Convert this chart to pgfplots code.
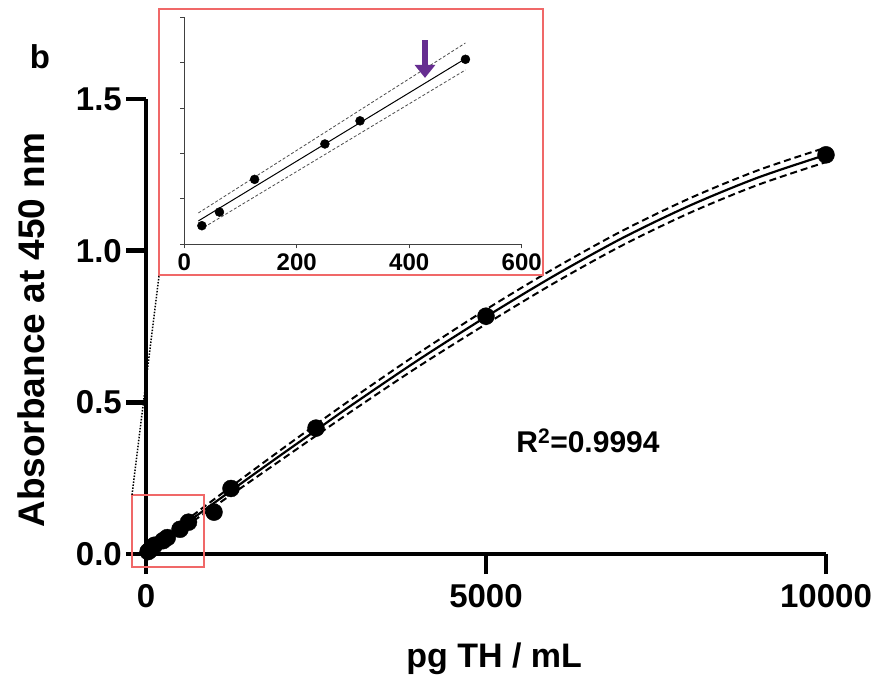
\documentclass[border=0pt]{standalone}
\usepackage{fontspec}
\setmainfont{Liberation Sans}
\usepackage{pgfplots}
\pgfplotsset{compat=1.18}
\usetikzlibrary{arrows.meta}
\definecolor{boxred}{RGB}{240,104,104}
\definecolor{arrowpurple}{RGB}{102,45,145}
\begin{document}
\begin{tikzpicture}
\path[use as bounding box] (0pt,-675pt) rectangle (879pt,0pt);
% ---------------- main axis ----------------
\begin{axis}[
  at={(146pt,-554pt)}, anchor=south west,
  scale only axis, width=680pt, height=455pt,
  xmin=0, xmax=10000, ymin=0, ymax=1.5,
  scaled x ticks=false, scaled y ticks=false,
  axis x line=bottom, axis y line=left,
  axis line style={-, line width=4.5pt, black},
  tick align=outside, major tick length=20pt,
  tick style={line width=4.5pt, black},
  xtick={0,5000,10000}, xticklabels={0,5000,10000},
  ytick={0,0.5,1,1.5}, yticklabels={0.0,0.5,1.0,1.5},
  ticklabel style={font=\fontsize{33pt}{36pt}\selectfont\bfseries, inner sep=0pt},
  xticklabel style={anchor=north, yshift=-10pt},
  yticklabel style={anchor=east, xshift=-4pt},
  xlabel={pg TH / mL},
  ylabel={Absorbance at 450 nm},
  xlabel style={font=\fontsize{34pt}{38pt}\selectfont\bfseries, inner sep=0pt,
    at={(axis description cs:0.512,0)}, anchor=base, yshift=-113pt},
  ylabel style={font=\fontsize{37pt}{40pt}\selectfont\bfseries, inner sep=0pt,
    at={(axis description cs:-0.168,0.492)}, anchor=center, rotate=0},
  clip=false,
]
% fitted curve and confidence band
\addplot[black, line width=2.2pt, smooth] coordinates {
 (31.25,0.011)(500,0.087)(1000,0.168)(1500,0.249)(2000,0.329)(2500,0.408)
 (3000,0.487)(4000,0.639)(5000,0.782)(6000,0.917)(7000,1.041)(8000,1.149)
 (9000,1.241)(10000,1.316)};
\addplot[black, line width=2pt, dash pattern=on 7pt off 4pt, smooth] coordinates {
 (31.25,0.016)(1000,0.180)(2000,0.346)(3000,0.507)(4000,0.661)(5000,0.806)
 (6000,0.941)(7000,1.065)(8000,1.173)(9000,1.265)(10000,1.340)};
\addplot[black, line width=2pt, dash pattern=on 7pt off 4pt, smooth] coordinates {
 (31.25,0.006)(1000,0.156)(2000,0.312)(3000,0.467)(4000,0.617)(5000,0.758)
 (6000,0.893)(7000,1.017)(8000,1.125)(9000,1.217)(10000,1.292)};
% standards
\addplot[only marks, mark=*, mark size=8.5pt, black] coordinates {
 (31.25,0.008)(62.5,0.014)(125,0.029)(250,0.044)(312.5,0.054)(500,0.0815)
 (625,0.105)(1000,0.138)(1250,0.216)(2500,0.415)(5000,0.784)(10000,1.316)};
\node[font=\fontsize{30pt}{34pt}\selectfont\bfseries] at (axis cs:6500,0.3726) {R\textsuperscript{2}=0.9994};
\node[font=\fontsize{33pt}{36pt}\selectfont\bfseries] at (axis description cs:-0.156,1.092) {b};
\end{axis}
% ---------------- inset ----------------
\begin{axis}[
  at={(184.3pt,-244.3pt)}, anchor=south west,
  scale only axis, width=337.4pt, height=227pt,
  xmin=0, xmax=600, ymin=0, ymax=0.1,
  scaled x ticks=false, scaled y ticks=false,
  axis x line=bottom, axis y line=left,
  axis line style={-, line width=1pt, black!75},
  tick align=outside, major tick length=4pt,
  tick style={line width=1pt, black!75},
  xtick={0,200,400,600}, xticklabels={0,200,400,600},
  ytick={0,0.02,0.04,0.06,0.08,0.1}, yticklabels={},
  ticklabel style={font=\fontsize{24pt}{26pt}\selectfont\bfseries, inner sep=0pt},
  xticklabel style={anchor=north, yshift=-5pt},
  clip=false,
]
\addplot[black, line width=1pt] coordinates {(25,0.0103)(500,0.0818)};
\addplot[black!70, line width=0.8pt, dash pattern=on 3pt off 2pt] coordinates {(25,0.0138)(500,0.0887)};
\addplot[black!70, line width=0.8pt, dash pattern=on 3pt off 2pt] coordinates {(35,0.0075)(500,0.0768)};
\addplot[only marks, mark=*, mark size=4.5pt, black] coordinates {
 (31.25,0.0082)(62.5,0.0142)(125,0.0286)(250,0.0442)(312.5,0.0544)(500,0.0815)};
\draw[arrowpurple, line width=6pt, -{Triangle[width=20pt,length=13pt]}] (axis cs:428,0.090) -- (axis cs:428,0.0733);
\end{axis}
% zoom boxes
\draw[boxred, line width=2.5pt] (159pt,-9pt) rectangle (543pt,-275pt);
\draw[boxred, line width=2.5pt] (132pt,-495pt) rectangle (204pt,-567pt);
\draw[black, line width=1.5pt, dash pattern=on 1.5pt off 1.5pt] (159pt,-276pt) -- (132pt,-495pt);
\end{tikzpicture}
\end{document}
